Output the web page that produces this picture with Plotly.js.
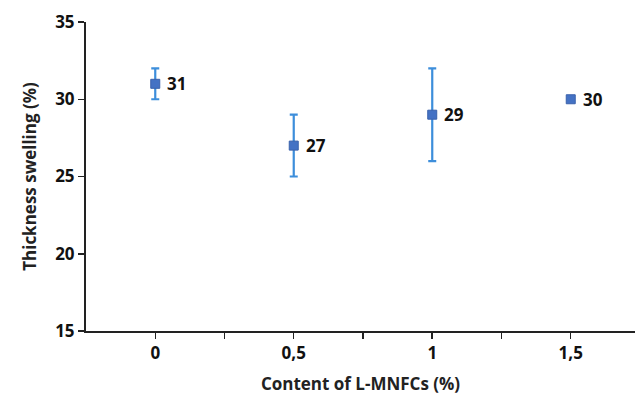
<!DOCTYPE html>
<html>
<head>
<meta charset="utf-8">
<script src="https://cdn.plot.ly/plotly-3.0.1.min.js"></script>
<style>html,body{margin:0;padding:0;background:#fff;}#chart{width:635px;height:400px;}</style>
</head>
<body>
<div id="chart"></div>
<script>
var categories = ['0', '0,5', '1', '1,5'];
var swelling = [31, 27, 29, 30];
var errPlus = [1, 2, 3, 0];
var errMinus = [1, 2, 3, 0];
var pointLabels = ['31', '27', '29', '30'];
var yTicks = [15, 20, 25, 30, 35];

var xs = categories.map(function(c, i){ return i; });

var tickVals = [], tickText = [];
for (var i = 0; i < categories.length; i++) {
  tickVals.push(i); tickText.push('<b>' + categories[i] + '</b>');
  tickVals.push(i + 0.5); tickText.push('');
}

var font = '"Open Sans", Roboto, sans-serif';

var trace = {
  x: xs, y: swelling, type: 'scatter', mode: 'markers',
  marker: {symbol: 'square', size: 9, color: '#4472C4', line: {color: '#3A62AB', width: 1}},
  error_y: {type: 'data', symmetric: false, array: errPlus, arrayminus: errMinus,
            color: '#3D8EDB', thickness: 2.2, width: 4},
  hoverinfo: 'none'
};

var annotations = xs.map(function(x, i){
  return {x: x, y: swelling[i], text: '<b>' + pointLabels[i] + '</b>', showarrow: false,
          xanchor: 'left', yanchor: 'middle', xshift: 10,
          font: {family: font, size: 17, color: '#111'}};
});

var layout = {
  width: 635, height: 400,
  margin: {l: 86, r: 0, t: 22, b: 69, pad: 0},
  paper_bgcolor: '#fff', plot_bgcolor: '#fff',
  showlegend: false,
  xaxis: {
    range: [-0.5, 3.464], tickmode: 'array', tickvals: tickVals, ticktext: tickText,
    ticks: 'outside', ticklen: 6, tickwidth: 1.5, tickcolor: '#222',
    showline: true, linecolor: '#222', linewidth: 2, showgrid: false, zeroline: false,
    tickfont: {family: font, size: 17, color: '#111'},
    title: {text: '<b>Content of L-MNFCs (%)</b>', font: {family: font, size: 17, color: '#222'}, standoff: 15}
  },
  yaxis: {
    range: [15, 35], tickmode: 'array', tickvals: yTicks,
    ticktext: yTicks.map(function(v){ return '<b>' + v + '</b>'; }),
    ticks: 'outside', ticklen: 6, tickwidth: 1.5, tickcolor: '#222',
    showline: true, linecolor: '#222', linewidth: 2, showgrid: false, zeroline: false,
    tickfont: {family: font, size: 17, color: '#111'},
    title: {text: '<b>Thickness swelling (%)</b>', font: {family: font, size: 17, color: '#222'}, standoff: 14}
  },
  annotations: annotations
};

Plotly.newPlot('chart', [trace], layout, {displayModeBar: false, staticPlot: true});
</script>
</body>
</html>
